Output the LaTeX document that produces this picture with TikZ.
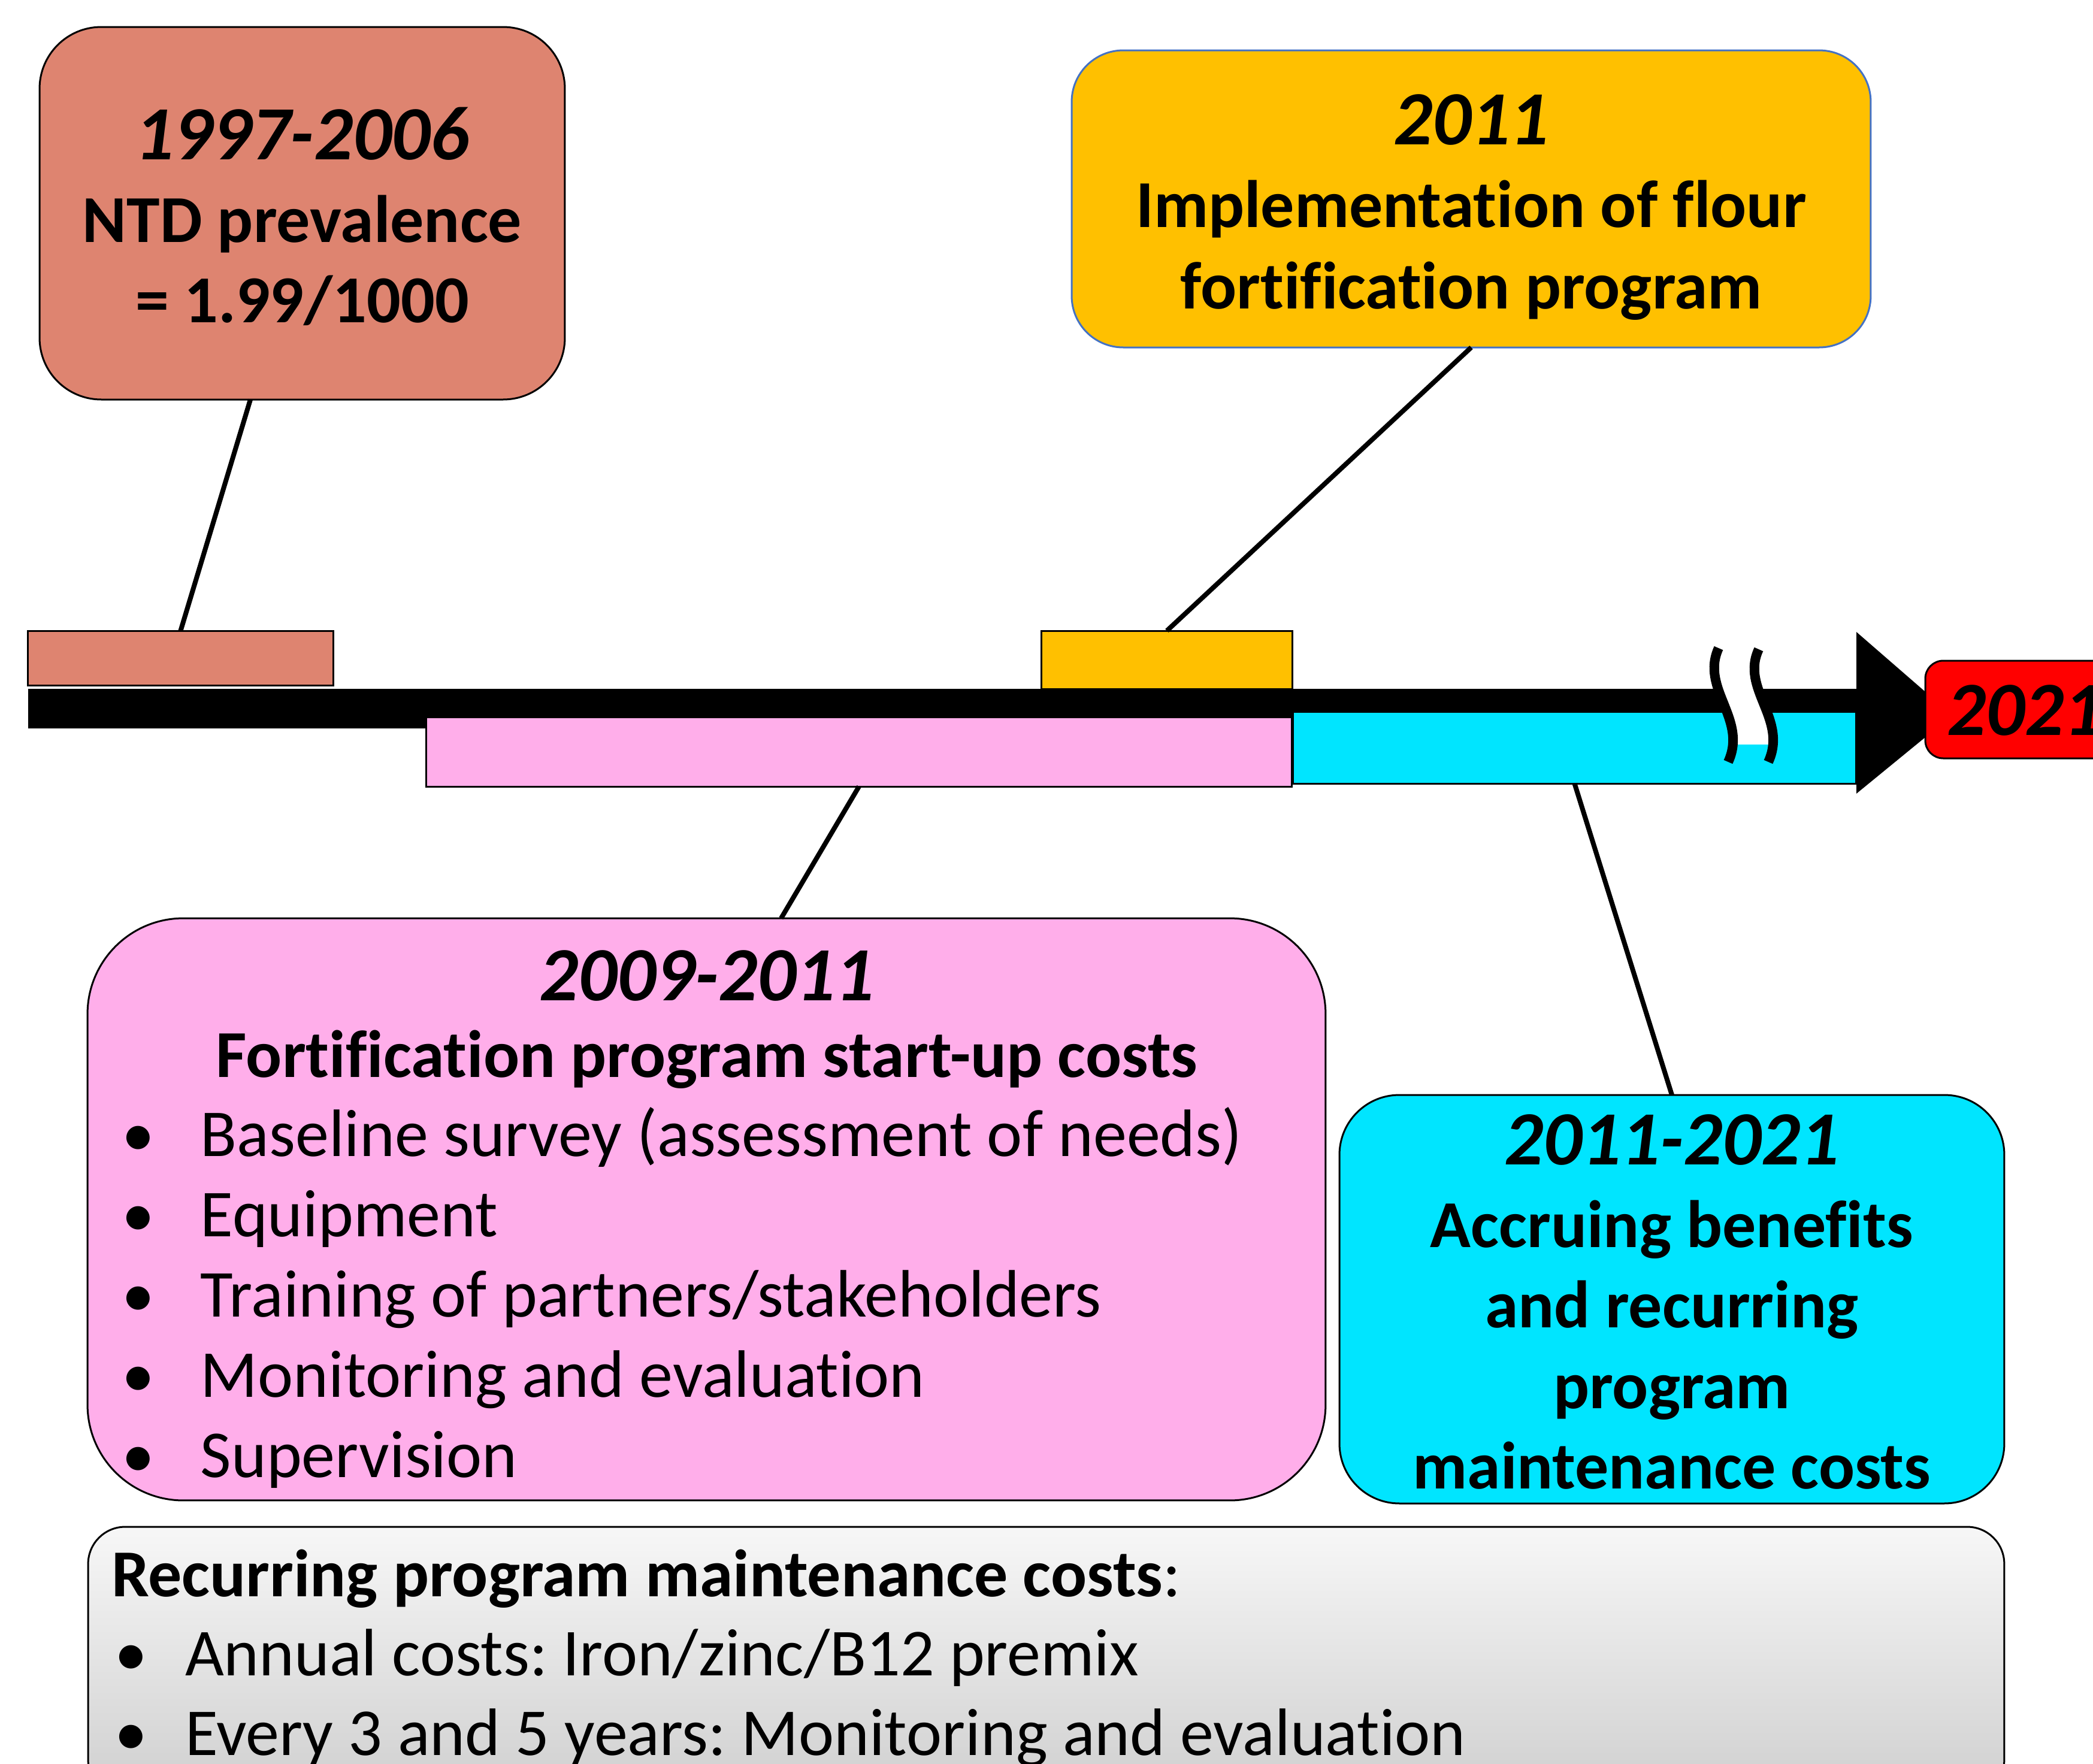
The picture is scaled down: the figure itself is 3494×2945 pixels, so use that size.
\documentclass[tikz,border=0pt]{standalone}
\usepackage{fontspec}
\setmainfont{Carlito}[Ligatures={NoCommon,NoRare}]
\definecolor{salmonc}{HTML}{DE8470}
\definecolor{yellowc}{HTML}{FFC000}
\definecolor{pinkc}{HTML}{FFAEEA}
\definecolor{cyanc}{HTML}{00E5FF}
\definecolor{redc}{HTML}{FF0000}
\definecolor{yedge}{HTML}{4472C4}
\definecolor{graytop}{HTML}{F7F7F7}
\definecolor{graybot}{HTML}{CFCFCF}
\begin{document}
\frenchspacing
\begin{tikzpicture}[x=0.1pt,y=-0.1pt,
  boxs/.style={draw=black, line width=0.3pt, inner sep=0pt, outer sep=0pt},
  bars/.style={draw=black, line width=0.3pt, inner sep=0pt, outer sep=0pt},
  conn/.style={line width=0.8pt, draw=black},
  ttl/.style={font=\bfseries\itshape\fontsize{12.8}{15}\selectfont, inner sep=0pt, anchor=base},
  bl/.style={font=\bfseries\fontsize{11.2}{13.4}\selectfont, inner sep=0pt, anchor=base},
  rg/.style={font=\fontsize{11.2}{13.4}\selectfont, inner sep=0pt, anchor=base west},
  bul/.style={font=\fontsize{11}{13.4}\selectfont, inner sep=0pt, anchor=base},
  brk/.style={line width=1.6pt, draw=black}
]
\useasboundingbox (0,0) rectangle (3494,2945);
\clip (0,0) rectangle (3494,2945);

% timeline arrow
\fill[black] (47,1150) -- (3099,1150) -- (3099,1055) -- (3259,1194) -- (3099,1325) -- (3099,1216) -- (47,1216) -- cycle;

% bars
\node[bars, fill=salmonc, minimum width=51.1pt, minimum height=9.1pt] (salmonbar) at (301.5,1098.5) {};
\node[bars, fill=yellowc, minimum width=42pt, minimum height=9.7pt] (yellowbar) at (1948,1101.5) {};
\node[bars, fill=pinkc, minimum width=144.6pt, minimum height=11.6pt] (pinkbar) at (1434,1255) {};
\node[bars, fill=cyanc, minimum width=94.1pt, minimum height=12pt] (cyanbar) at (2628.5,1248) {};

% end box 2021
\node[boxs, fill=redc, rounded corners=3pt, minimum width=48.6pt, minimum height=16.3pt] (redbox) at (3457,1184.5) {};
\node[ttl, anchor=base west] (t2021) at (3249,1227) {2021};

% break marks
\begin{scope}
  \clip (2800,1140) rectangle (3000,1242);
  \fill[white] (2869,1082) .. controls (2838,1150) and (2918,1200) .. (2885,1272)
     -- (2952,1272) .. controls (2985,1200) and (2905,1150) .. (2936,1084) -- cycle;
\end{scope}
\draw[brk] (2869,1082) .. controls (2838,1150) and (2918,1200) .. (2885,1272);
\draw[brk] (2936,1084) .. controls (2905,1150) and (2985,1200) .. (2952,1272);

% boxes
\node[boxs, fill=salmonc, rounded corners=10.3pt, minimum width=87.7pt, minimum height=62.2pt] (salmonbox) at (504.5,356) {};
\node[boxs, draw=yedge, fill=yellowc, rounded corners=8.6pt, minimum width=133.4pt, minimum height=49.6pt] (yellowbox) at (2456,332) {};
\node[boxs, fill=pinkc, rounded corners=16pt, minimum width=206.7pt, minimum height=97.2pt] (pinkbox) at (1179.5,2019) {};
\node[boxs, fill=cyanc, rounded corners=10pt, minimum width=111pt, minimum height=68.2pt] (cyanbox) at (2791,2169) {};
\node[boxs, top color=graytop, bottom color=graybot, rounded corners=6.2pt, minimum width=319.9pt, minimum height=45.1pt] (graybox) at (1746.5,2774.5) {};

% connectors
\draw[conn] ([xshift=-8.65pt]salmonbox.south) -- (salmonbar.north);
\draw[conn] (yellowbox.south) -- (yellowbar.north);
\draw[conn] (pinkbar.south) -- ([xshift=12.45pt]pinkbox.north);
\draw[conn] (cyanbar.south) -- (cyanbox.north);

% salmon text
\node[ttl] (s1) at (504.5,266) {1997-2006};
\node[bl] (s2) at (504.5,404) {NTD prevalence};
\node[bl] (s3) at (504.5,538) {= 1.99/1000};

% yellow text
\node[ttl] (y1) at (2456,241) {2011};
\node[bl] (y2) at (2456,379) {Implementation of flour};
\node[bl] (y3) at (2456,515) {fortification program};

% pink text
\node[ttl] (p1) at (1180,1670) {2009-2011};
\node[bl] (p2) at (1180,1798) {Fortification program start-up costs};
\node[bul] (pb1) at (231,1930) {•};
\node[rg] (pt1) at (333,1930) {Baseline survey (assessment of needs)};
\node[bul] (pb2) at (231,2064) {•};
\node[rg] (pt2) at (333,2064) {Equipment};
\node[bul] (pb3) at (231,2198) {•};
\node[rg] (pt3) at (333,2198) {Training of partners/stakeholders};
\node[bul] (pb4) at (231,2332) {•};
\node[rg] (pt4) at (333,2332) {Monitoring and evaluation};
\node[bul] (pb5) at (231,2466) {•};
\node[rg] (pt5) at (333,2466) {Supervision};

% cyan text
\node[ttl] (c1) at (2791,1944) {2011-2021};
\node[bl] (c2) at (2791,2082) {Accruing benefits};
\node[bl] (c3) at (2791,2216) {and recurring};
\node[bl] (c4) at (2791,2351) {program};
\node[bl] (c5) at (2791,2485) {maintenance costs};

% gray text
\node[rg] (g1) at (184,2665) {\textbf{Recurring program maintenance costs}:};
\node[bul] (gb1) at (219,2797) {•};
\node[rg] (gt1) at (307,2797) {Annual costs: Iron/zinc/B12 premix};
\node[bul] (gb2) at (219,2930) {•};
\node[rg] (gt2) at (307,2930) {Every 3 and 5 years: Monitoring and evaluation};
\end{tikzpicture}
\end{document}
